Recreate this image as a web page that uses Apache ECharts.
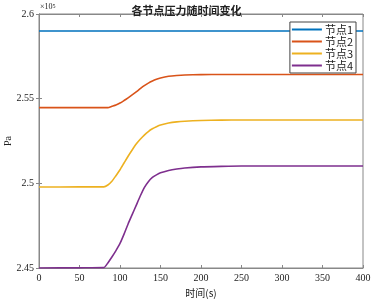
<!DOCTYPE html>
<html>
<head>
<meta charset="utf-8">
<script src="https://cdn.jsdelivr.net/npm/echarts@6/dist/echarts.min.js"></script>
<style>
html,body{margin:0;padding:0;background:#fff;}
#main{width:373px;height:300px;}
</style>
</head>
<body>
<div id="main"></div>
<script>
// 时间(s)
var times = [0, 50, 80, 85, 90, 95, 100, 105, 110, 115, 120, 125, 130, 135, 140, 145, 150, 160, 170, 180, 200, 225, 250, 300, 350, 400];
// 压力 (x10^5 Pa)
var node1 = [2.590, 2.590, 2.590, 2.590, 2.590, 2.590, 2.590, 2.590, 2.590, 2.590, 2.590, 2.590, 2.590, 2.590, 2.590, 2.590, 2.590, 2.590, 2.590, 2.590, 2.590, 2.590, 2.590, 2.590, 2.590, 2.590];
var node2 = [2.5447, 2.5447, 2.5447, 2.5447, 2.5455, 2.5463, 2.5474, 2.5489, 2.5505, 2.5522, 2.5540, 2.5559, 2.5577, 2.5592, 2.5604, 2.5614, 2.5622, 2.5632, 2.5637, 2.5640, 2.5642, 2.5643, 2.5643, 2.5643, 2.5643, 2.5643];
var node3 = [2.4978, 2.4979, 2.4979, 2.4990, 2.5012, 2.5045, 2.5080, 2.5120, 2.5160, 2.5197, 2.5232, 2.5260, 2.5285, 2.5306, 2.5322, 2.5334, 2.5344, 2.5356, 2.5363, 2.5367, 2.5371, 2.5373, 2.5374, 2.5374, 2.5374, 2.5374];
var node4 = [2.4500, 2.4501, 2.4502, 2.4530, 2.4565, 2.4603, 2.4645, 2.4700, 2.4760, 2.4815, 2.4870, 2.4925, 2.4975, 2.5010, 2.5035, 2.5050, 2.5062, 2.5076, 2.5085, 2.5091, 2.5097, 2.5100, 2.5102, 2.5102, 2.5102, 2.5102];
var names = ['节点1', '节点2', '节点3', '节点4'];
var colors = ['#0072BD', '#D95319', '#EDB120', '#7E2F8E'];

var serif = '"Liberation Serif", "Noto Sans CJK SC", serif';
var cjk = '"Noto Sans CJK SC", serif';

function pairs(vals){
	var out = [];
	for(var i = 0; i < times.length; i++){
		out.push([times[i], vals[i]]);
	}
	return out;
}

var allData = [node1, node2, node3, node4];
var seriesList = [];
for(var i = 0; i < names.length; i++){
	seriesList.push({
		name: names[i],
		type: 'line',
		data: pairs(allData[i]),
		showSymbol: false,
		smooth: 0.2,
		lineStyle: {width: 1.6, color: colors[i]},
		itemStyle: {color: colors[i]},
		animation: false
	});
}

var chart = echarts.init(document.getElementById('main'));
var axisGray = '#888888';
chart.setOption({
	backgroundColor: '#fff',
	title: {
		text: '各节点压力随时间变化',
		left: 'center',
		top: 0,
		textStyle: {fontSize: 11, fontWeight: 'bold', color: '#222', fontFamily: cjk}
	},
	grid: {left: 39, right: 10, top: 14, bottom: 32, outerBoundsMode: 'none', containLabel: false,
		show: true, borderColor: axisGray, borderWidth: 1},
	legend: {
		orient: 'vertical',
		right: 17,
		top: 22,
		itemWidth: 30,
		itemHeight: 2,
		itemGap: 1,
		padding: [2, 3, 2, 2],
		backgroundColor: '#fff',
		borderColor: '#444',
		borderWidth: 1,
		icon: 'rect',
		align: 'left',
		textStyle: {fontSize: 11, color: '#222', fontFamily: cjk, padding: [0, 0, 0, -2]},
		data: names
	},
	graphic: [{
		type: 'text',
		left: 40,
		top: 3,
		style: {
			text: '×10{s|5}',
			rich: {s: {fontSize: 6, verticalAlign: 'top', fontFamily: serif, fill: '#222'}},
			fontSize: 8,
			fontFamily: serif,
			fill: '#222'
		}
	}, {
		// y轴名称
		type: 'text',
		x: 8,
		y: 141,
		rotation: Math.PI / 2,
		style: {
			text: 'Pa',
			fontSize: 10,
			fontFamily: serif,
			fill: '#222',
			align: 'center',
			verticalAlign: 'middle'
		}
	}],
	xAxis: [{
		type: 'value',
		min: 0,
		max: 400,
		interval: 50,
		name: '时间(s)',
		nameLocation: 'middle',
		nameGap: 19,
		nameTextStyle: {fontSize: 10, color: '#222', fontFamily: cjk},
		axisLine: {lineStyle: {color: axisGray}},
		axisTick: {inside: true, length: 3, lineStyle: {color: axisGray}},
		axisLabel: {fontSize: 10, color: '#222', fontFamily: serif, margin: 5},
		splitLine: {show: false}
	}, {
		type: 'value',
		position: 'top',
		min: 0,
		max: 400,
		interval: 50,
		axisLine: {show: true, lineStyle: {color: axisGray}},
		axisTick: {inside: true, length: 3, lineStyle: {color: axisGray}},
		axisLabel: {show: false},
		splitLine: {show: false}
	}],
	yAxis: [{
		type: 'value',
		min: 2.45,
		max: 2.6,
		interval: 0.05,
		axisLine: {show: true, lineStyle: {color: axisGray}},
		axisTick: {inside: true, length: 3, lineStyle: {color: axisGray}},
		axisLabel: {
			fontSize: 10, color: '#222', fontFamily: serif, margin: 5,
			formatter: function(v){ return String(Math.round(v * 100) / 100); }
		},
		splitLine: {show: false}
	}, {
		type: 'value',
		position: 'right',
		min: 2.45,
		max: 2.6,
		interval: 0.05,
		axisLine: {show: true, lineStyle: {color: axisGray}},
		axisTick: {inside: true, length: 3, lineStyle: {color: axisGray}},
		axisLabel: {show: false},
		splitLine: {show: false}
	}],
	series: seriesList
});
</script>
</body>
</html>
